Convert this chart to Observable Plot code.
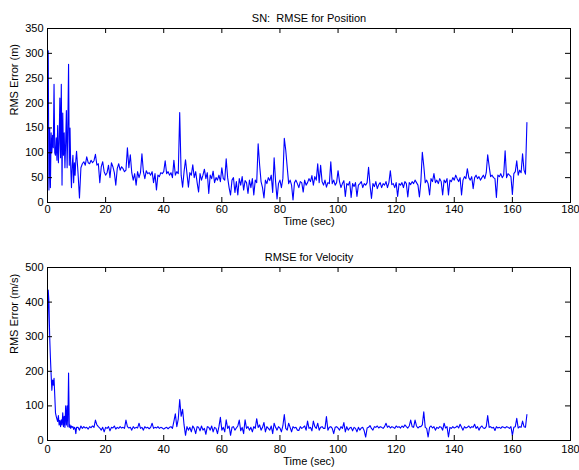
<!DOCTYPE html>
<html>
<head>
<meta charset="utf-8">
<script src="https://cdn.jsdelivr.net/npm/d3@7"></script>
<script src="https://cdn.jsdelivr.net/npm/@observablehq/plot@0.6"></script>
<style>
  html, body { margin: 0; padding: 0; background: #fff; }
  #chart { width: 579px; height: 470px; }
  #chart svg { display: block; }
</style>
</head>
<body>
<div id="chart"></div>
<script>
// ---- Data ----
const titles = ["SN:\u00a0 RMSE for Position", "RMSE for Velocity"];
const yLabels = ["RMS Error (m)", "RMS Error (m/s)"];
const xLabel = "Time (sec)";
const xTicks = [0, 20, 40, 60, 80, 100, 120, 140, 160, 180];
const posTicks = [0, 50, 100, 150, 200, 250, 300, 350];
const velTicks = [0, 100, 200, 300, 400, 500];

// sampling grid: 0..10 s every 0.25 s, then 10.5..165 s every 0.5 s
const earlyStep = 0.25;
const lateStart = 10.5;
const lateStep = 0.5;

const posEarly = [300, 305, 25, 150, 30, 140, 100, 135, 110, 238, 100, 95, 130, 85, 155, 80, 120, 210, 90, 238,
  35, 180, 95, 140, 70, 120, 185, 70, 150, 278, 75, 150, 70, 30, 75, 95, 40, 80, 55, 85, 103];
const posLate = [
  60, 9, 70, 78, 82, 75, 92, 80, 78, 85,
  80, 84, 97, 75, 78, 40, 72, 82, 62, 55,
  60, 75, 50, 80, 72, 60, 35, 68, 78, 65,
  72, 68, 62, 65, 110, 70, 96, 60, 45, 58,
  35, 62, 50, 60, 98, 62, 48, 64, 58, 60,
  55, 62, 40, 58, 25, 55, 52, 60, 58, 62,
  84, 58, 62, 55, 60, 50, 85, 55, 62, 58,
  181, 55, 31, 62, 86, 58, 31, 60, 55, 76,
  50, 62, 40, 21, 58, 45, 55, 67, 48, 60,
  18, 55, 48, 63, 40, 50, 45, 55, 42, 70,
  48, 45, 88, 50, 30, 15, 45, 50, 20, 42,
  15, 48, 35, 52, 25, 44, 40, 18, 45, 30,
  48, 15, 45, 40, 118, 76, 42, 30, 9, 45,
  38, 50, 44, 55, 20, 90, 42, 7, 38, 45,
  30, 48, 129, 105, 71, 38, 45, 35, 5, 40,
  45, 38, 30, 42, 40, 21, 45, 35, 40, 48,
  42, 54, 35, 52, 45, 78, 40, 75, 42, 35,
  45, 31, 40, 38, 82, 38, 45, 35, 40, 64,
  42, 30, 38, 44, 12, 38, 35, 42, 10, 38,
  32, 40, 12, 35, 38, 42, 30, 38, 35, 40,
  71, 35, 8, 38, 32, 42, 28, 36, 40, 30,
  38, 35, 42, 30, 40, 64, 36, 38, 30, 40,
  12, 38, 35, 40, 30, 42, 38, 11, 40, 36,
  42, 38, 45, 40, 35, 11, 42, 101, 74, 40,
  45, 38, 15, 48, 42, 58, 40, 45, 38, 48,
  42, 15, 45, 40, 48, 15, 45, 42, 50, 45,
  55, 48, 42, 50, 15, 45, 52, 48, 68, 50,
  45, 52, 28, 50, 55, 48, 52, 45, 50, 55,
  48, 60, 96, 73, 52, 55, 50, 48, 10, 55,
  52, 58, 50, 55, 104, 50, 58, 55, 52, 16,
  58, 62, 84, 55, 65, 60, 98, 65, 57, 161
];

const velEarly = [290, 435, 400, 300, 240, 190, 145, 175, 160, 180, 130, 80, 70, 62, 55, 72, 45, 58, 40, 60,
  45, 80, 40, 70, 38, 100, 45, 100, 40, 195, 38, 45, 35, 42, 38, 40, 32, 38, 35, 20, 38];
const velLate = [
  38, 30, 42, 35, 40, 36, 38, 33, 40, 37,
  42, 38, 59, 45, 40, 36, 30, 38, 25, 38,
  35, 40, 28, 38, 36, 42, 33, 38, 35, 40,
  36, 38, 35, 59, 40, 36, 38, 30, 40, 35,
  38, 36, 50, 35, 38, 30, 40, 36, 38, 34,
  38, 50, 35, 38, 36, 40, 35, 38, 36, 33,
  36, 38, 34, 38, 40, 35, 55, 77, 40, 62,
  118, 70, 90, 45, 15, 40, 30, 38, 25, 42,
  35, 20, 40, 38, 28, 42, 30, 35, 18, 40,
  38, 30, 42, 25, 38, 35, 20, 40, 67, 30,
  38, 25, 60, 35, 42, 15, 38, 40, 30, 36,
  42, 59, 28, 38, 20, 60, 35, 40, 30, 38,
  25, 40, 35, 63, 38, 45, 30, 38, 52, 25,
  40, 35, 30, 42, 20, 50, 38, 30, 40, 36,
  25, 42, 75, 35, 30, 50, 38, 25, 40, 36,
  38, 30, 29, 40, 35, 38, 42, 30, 56, 35,
  38, 28, 56, 40, 35, 50, 30, 38, 40, 35,
  35, 69, 30, 38, 40, 35, 20, 38, 40, 36,
  30, 40, 35, 52, 25, 40, 30, 36, 38, 28,
  38, 35, 25, 38, 30, 36, 38, 28, 10, 36,
  38, 43, 35, 30, 40, 38, 42, 36, 40, 38,
  35, 40, 50, 38, 42, 36, 40, 38, 35, 42,
  38, 40, 36, 42, 38, 45, 40, 36, 42, 59,
  40, 38, 59, 42, 36, 40, 40, 45, 83, 38,
  35, 10, 38, 42, 36, 40, 30, 38, 35, 40,
  38, 30, 50, 36, 40, 10, 38, 35, 40, 36,
  38, 42, 36, 47, 38, 30, 40, 36, 38, 42,
  36, 40, 38, 47, 35, 40, 30, 38, 42, 36,
  35, 40, 72, 38, 40, 36, 38, 29, 40, 36,
  38, 35, 40, 38, 36, 40, 38, 35, 40, 15,
  38, 40, 64, 36, 40, 38, 56, 40, 38, 75
];

function series(early, late) {
  return early.map((v, i) => ({t: i * earlyStep, v}))
    .concat(late.map((v, i) => ({t: lateStart + i * lateStep, v})));
}

const W = 579;
const font = "'Liberation Sans', Arial, Helvetica, sans-serif";

function panel({data, yDomain, yTicks, title, yLabel, height, mt, mb, xLabelDy, tickPad}) {
  const ml = 47, mr = 9;
  const fw = W - ml - mr;
  const fh = height - mt - mb;
  const tk = 5;
  return Plot.plot({
    width: W,
    height,
    marginLeft: ml,
    marginRight: mr,
    marginTop: mt,
    marginBottom: mb,
    style: {background: "#fff", color: "#000", fontSize: "11px", fontFamily: font, overflow: "visible"},
    x: {domain: [0, 180], label: null},
    y: {domain: yDomain, label: null},
    marks: [
      Plot.line(data, {x: "t", y: "v", stroke: "#0000ff", strokeWidth: 1.1}),
      // inward ticks on all four sides
      Plot.tickX(xTicks, {x: d => d, insetTop: fh - tk, stroke: "#000"}),
      Plot.tickX(xTicks, {x: d => d, insetBottom: fh - tk, stroke: "#000"}),
      Plot.tickY(yTicks, {y: d => d, insetRight: fw - tk, stroke: "#000"}),
      Plot.tickY(yTicks, {y: d => d, insetLeft: fw - tk, stroke: "#000"}),
      Plot.frame({stroke: "#000", strokeWidth: 1}),
      Plot.axisX({ticks: xTicks, tickSize: 0, tickPadding: tickPad, label: null, fill: "#000"}),
      Plot.axisY({ticks: yTicks, tickSize: 0, tickPadding: 4, label: null, fill: "#000"}),
      Plot.text([title], {text: d => d, frameAnchor: "top", dy: -14, fill: "#000", fontSize: 11}),
      Plot.text([xLabel], {text: d => d, frameAnchor: "bottom", dy: xLabelDy, fill: "#000", fontSize: 11}),
      Plot.text([yLabel], {text: d => d, frameAnchor: "left", dx: -33, rotate: -90, fill: "#000", fontSize: 11})
    ]
  });
}

const chart = document.getElementById("chart");
chart.append(panel({
  data: series(posEarly, posLate), yDomain: [0, 350], yTicks: posTicks,
  title: titles[0], yLabel: yLabels[0], height: 235, mt: 28, mb: 33, xLabelDy: 22, tickPad: 3
}));
chart.append(panel({
  data: series(velEarly, velLate), yDomain: [0, 500], yTicks: velTicks,
  title: titles[1], yLabel: yLabels[1], height: 235, mt: 32, mb: 30, xLabelDy: 24, tickPad: 5
}));
</script>
</body>
</html>
